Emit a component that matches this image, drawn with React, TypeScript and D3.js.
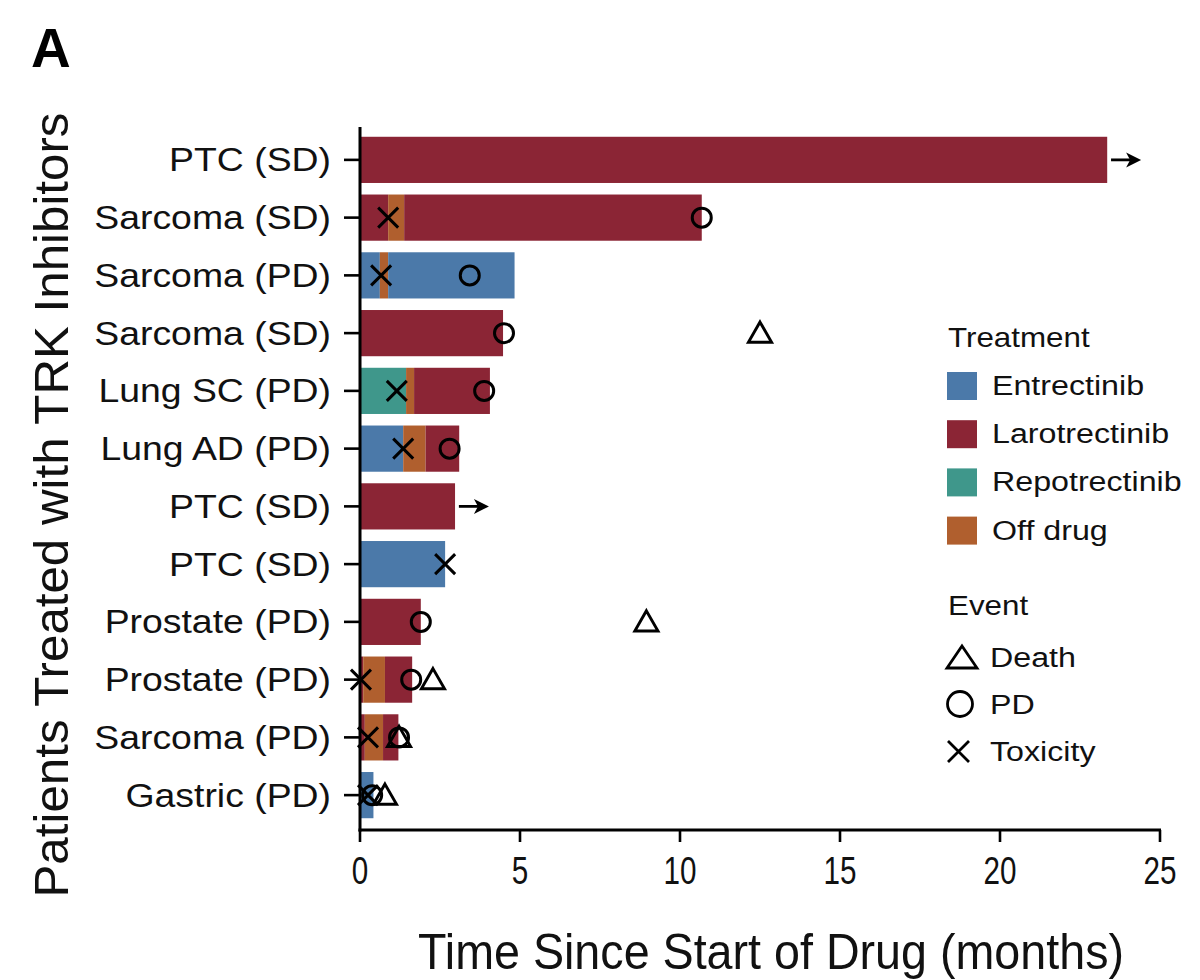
import React from "react";
import * as d3 from "d3";

const patients = [
  "PTC (SD)", "Sarcoma (SD)", "Sarcoma (PD)", "Sarcoma (SD)", "Lung SC (PD)", "Lung AD (PD)",
  "PTC (SD)", "PTC (SD)", "Prostate (PD)", "Prostate (PD)", "Sarcoma (PD)", "Gastric (PD)",
];

const treatments = ["Entrectinib", "Larotrectinib", "Repotrectinib", "Off drug"];
const treatmentColors = ["#4b79a9", "#8b2535", "#3f978b", "#b05f2e"];

// [row, treatment, start, end] in months
const segments: [number, string, number, number][] = [
  [0, "Larotrectinib", 0, 23.35],
  [1, "Larotrectinib", 0, 0.88], [1, "Off drug", 0.88, 1.38], [1, "Larotrectinib", 1.38, 10.68],
  [2, "Entrectinib", 0, 0.62], [2, "Off drug", 0.62, 0.88], [2, "Entrectinib", 0.88, 4.83],
  [3, "Larotrectinib", 0, 4.47],
  [4, "Repotrectinib", 0, 1.44], [4, "Off drug", 1.44, 1.69], [4, "Larotrectinib", 1.69, 4.06],
  [5, "Entrectinib", 0, 1.35], [5, "Off drug", 1.35, 2.05], [5, "Larotrectinib", 2.05, 3.1],
  [6, "Larotrectinib", 0, 2.97],
  [7, "Entrectinib", 0, 2.66],
  [8, "Larotrectinib", 0, 1.9],
  [9, "Larotrectinib", 0, 0.1], [9, "Off drug", 0.1, 0.78], [9, "Larotrectinib", 0.78, 1.63],
  [10, "Larotrectinib", 0, 0.15], [10, "Off drug", 0.15, 0.72], [10, "Larotrectinib", 0.72, 1.2],
  [11, "Entrectinib", 0, 0.42],
];

const eventTypes = ["Death", "PD", "Toxicity"];
// [row, event, time]
const events: [number, string, number][] = [
  [1, "Toxicity", 0.88], [1, "PD", 10.68],
  [2, "Toxicity", 0.66], [2, "PD", 3.43],
  [3, "PD", 4.5], [3, "Death", 12.5],
  [4, "Toxicity", 1.15], [4, "PD", 3.88],
  [5, "Toxicity", 1.35], [5, "PD", 2.8],
  [7, "Toxicity", 2.66],
  [8, "PD", 1.9], [8, "Death", 8.95],
  [9, "Toxicity", 0.03], [9, "PD", 1.6], [9, "Death", 2.28],
  [10, "Toxicity", 0.25], [10, "Death", 1.22], [10, "PD", 1.22],
  [11, "Toxicity", 0.25], [11, "PD", 0.38], [11, "Death", 0.78],
];

// rows still on treatment (arrow)
const ongoing = [0, 6];

const xTicks = [0, 5, 10, 15, 20, 25];

const FONT = "'Liberation Sans', Arial, Helvetica, sans-serif";

function Marker({ type, x, y, s = 1 }: { type: string; x: number; y: number; s?: number }) {
  const sw = 3;
  if (type === "PD") {
    return <circle cx={x} cy={y} r={9.5 * s} fill="none" stroke="#000" strokeWidth={sw} />;
  }
  if (type === "Toxicity") {
    const d = 10 * s;
    return (
      <path d={`M${x - d},${y - d}L${x + d},${y + d}M${x - d},${y + d}L${x + d},${y - d}`} stroke="#000" strokeWidth={sw} fill="none" />
    );
  }
  const w = 11.5 * s;
  const h = 20 * s;
  return (
    <path d={`M${x},${y - h * 0.55}L${x + w},${y + h * 0.45}L${x - w},${y + h * 0.45}Z`} fill="none" stroke="#000" strokeWidth={sw} strokeLinejoin="miter" />
  );
}

export default function App() {
  const width = 1200;
  const height = 980;
  const x = d3.scaleLinear().domain([0, 25]).range([360, 1160]);
  const y = d3.scaleBand<number>().domain(d3.range(patients.length)).range([131, 824]).paddingInner(0.2).paddingOuter(0.1);
  const color = d3.scaleOrdinal<string, string>().domain(treatments).range(treatmentColors);
  const bw = y.bandwidth();
  const cy = (i: number) => (y(i) as number) + bw / 2;
  const axisY = 830;

  const rowEnd = (r: number) => d3.max(segments.filter((s) => s[0] === r), (s) => s[3]) as number;

  return (
    <svg width={width} height={height} style={{ display: "block", position: "absolute", left: 0, top: 0 }} fontFamily={FONT}>
      <rect width={width} height={height} fill="#fff" />
      <text x={31} y={67} fontSize={55} fontWeight="bold">A</text>

      {/* bars */}
      {segments.map((s, i) => (
        <rect key={i} x={x(s[2])} y={y(s[0])} width={x(s[3]) - x(s[2])} height={bw} fill={color(s[1])} />
      ))}

      {/* arrows */}
      {ongoing.map((r) => {
        const x0 = x(rowEnd(r) + 0.12);
        const x1 = x(rowEnd(r) + 1.06);
        const yy = cy(r);
        return (
          <g key={r}>
            <line x1={x0} x2={x1 - 8} y1={yy} y2={yy} stroke="#000" strokeWidth={2.8} />
            <path d={`M${x1},${yy}L${x1 - 15},${yy - 7.5}L${x1 - 11},${yy}L${x1 - 15},${yy + 7.5}Z`} fill="#000" />
          </g>
        );
      })}

      {/* events */}
      {events.map((e, i) => (
        <Marker key={i} type={e[1]} x={x(e[2])} y={cy(e[0])} />
      ))}

      {/* y axis */}
      <line x1={360} x2={360} y1={127} y2={axisY + 1.5} stroke="#000" strokeWidth={3} />
      {patients.map((p, i) => (
        <g key={i}>
          <line x1={344} x2={360} y1={cy(i)} y2={cy(i)} stroke="#000" strokeWidth={2.6} />
          <text transform={`translate(331,${cy(i) + 11.5}) scale(1.15,1)`} textAnchor="end" fontSize={32.5} fill="#111">{p}</text>
        </g>
      ))}

      {/* x axis */}
      <line x1={358.5} x2={1161} y1={axisY} y2={axisY} stroke="#000" strokeWidth={3} />
      {xTicks.map((t) => (
        <g key={t}>
          <line x1={x(t)} x2={x(t)} y1={axisY} y2={axisY + 12} stroke="#000" strokeWidth={2.6} />
          <text x={x(t)} y={884} textAnchor="middle" fontSize={38} textLength={String(t).length * 16.5} lengthAdjust="spacingAndGlyphs" fill="#111">{t}</text>
        </g>
      ))}

      <text x={771} y={969} textAnchor="middle" fontSize={50} textLength={706} lengthAdjust="spacingAndGlyphs" fill="#111">Time Since Start of Drug (months)</text>
      <text transform={`translate(68,505) rotate(-90)`} textAnchor="middle" fontSize={49} textLength={785} lengthAdjust="spacingAndGlyphs" fill="#111">Patients Treated with TRK Inhibitors</text>

      {/* legend */}
      <g>
        <text transform="translate(948,347) scale(1.12,1)" fontSize={28} fill="#111">Treatment</text>
        {treatments.map((t, i) => (
          <g key={t}>
            <rect x={947} y={372 + i * 48.2} width={30} height={28} fill={color(t)} />
            <text transform={`translate(992,${395 + i * 48.2}) scale(1.15,1)`} fontSize={28} fill="#111">{t}</text>
          </g>
        ))}
        <text transform="translate(948,615) scale(1.12,1)" fontSize={28} fill="#111">Event</text>
        {eventTypes.map((t, i) => {
          const yy = 657 + i * 47;
          return (
            <g key={t}>
              {t === "PD" ? (
                <circle cx={960} cy={yy} r={12.5} fill="none" stroke="#000" strokeWidth={2.8} />
              ) : t === "Death" ? (
                <path d={`M962,${yy - 11}L977,${yy + 11}L947,${yy + 11}Z`} fill="none" stroke="#000" strokeWidth={2.8} />
              ) : (
                <path d={`M948,${yy - 10}L969,${yy + 11}M948,${yy + 11}L969,${yy - 10}`} stroke="#000" strokeWidth={2.8} fill="none" />
              )}
              <text transform={`translate(990,${yy + 10}) scale(1.15,1)`} fontSize={28} fill="#111">{t}</text>
            </g>
          );
        })}
      </g>
    </svg>
  );
}
